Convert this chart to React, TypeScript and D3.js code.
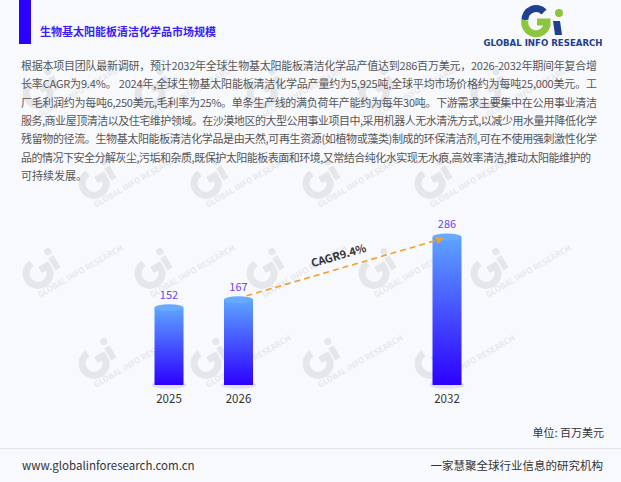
import React from "react";
import * as d3 from "d3";

const slots = ["2025", "2026", "2027", "2028", "2032"];
const categories = ["2025", "2026", "2032"];
const values = [152, 167, 286];
const cagrLabel = "CAGR9.4%";
const title = "生物基太阳能板清洁化学品市场规模";
const bodyLines = [
  "根据本项目团队最新调研，预计2032年全球生物基太阳能板清洁化学品产值达到286百万美元，2026-2032年期间年复合增",
  "长率CAGR为9.4%。 2024年,全球生物基太阳能板清洁化学品产量约为5,925吨,全球平均市场价格约为每吨25,000美元。工",
  "厂毛利润约为每吨6,250美元,毛利率为25%。单条生产线的满负荷年产能约为每年30吨。下游需求主要集中在公用事业清洁",
  "服务,商业屋顶清洁以及住宅维护领域。在沙漠地区的大型公用事业项目中,采用机器人无水清洗方式,以减少用水量并降低化学",
  "残留物的径流。生物基太阳能板清洁化学品是由天然,可再生资源(如植物或藻类)制成的环保清洁剂,可在不使用强刺激性化学",
  "品的情况下安全分解灰尘,污垢和杂质,既保护太阳能板表面和环境,又常结合纯化水实现无水痕,高效率清洁,推动太阳能维护的",
  "可持续发展。",
];
const unitLabel = "单位: 百万美元";
const footerLeft = "www.globalinforesearch.com.cn";
const footerRight = "一家慧聚全球行业信息的研究机构";

const W = 621;
const H = 482;
const FONT = "'Noto Sans CJK SC', 'Noto Sans', sans-serif";

function Watermark({ x, y }: { x: number; y: number }) {
  return (
    <g transform={`translate(${x},${y}) rotate(-30)`} opacity={0.07}>
      <path d="M -4 -10 A 12 12 0 1 0 8 6 L 8 0 L 0 0" fill="none" stroke="#000" strokeWidth={7} />
      <rect x={13} y={-6} width={6} height={14} fill="#000" />
      <circle cx={16} cy={-12} r={3.5} fill="#000" />
      <text x={-14} y={24} fontSize={8} fontWeight={700} fill="#000" fontFamily={FONT}>
        GLOBAL INFO RESEARCH
      </text>
    </g>
  );
}

export default function App() {
  const x = d3.scalePoint<string>().domain(slots).range([169, 447]);
  const y = d3.scaleLinear().domain([0, 286]).range([385, 234]);
  const barW = 29;

  const wm: { x: number; y: number }[] = [];
  const rowsY = [90, 180, 270, 360];
  rowsY.forEach((ry, i) => {
    for (let k = 0; k < 5; k++) {
      const px = 40 + k * 112 + (i % 2) * 56;
      if (px < 500) wm.push({ x: px, y: ry });
    }
  });

  const sx = (x("2026") as number) + 8;
  const sy = y(167) - 1;
  const ex = (x("2032") as number) - 6;
  const ey = y(286) + 5;
  const ang = (Math.atan2(ey - sy, ex - sx) * 180) / Math.PI;
  const mx = (sx + ex) / 2 - 4;
  const my = (sy + ey) / 2 - 8;

  return (
    <svg width={W} height={H} style={{ position: "absolute", left: 0, top: 0 }} fontFamily={FONT}>
      <defs>
        <linearGradient id="barGrad" x1="0" y1="0" x2="0" y2="1">
          <stop offset="0%" stopColor="#5ea4ff" />
          <stop offset="100%" stopColor="#2c00ff" />
        </linearGradient>
        <marker id="arrow" viewBox="0 0 10 10" refX="6" refY="5" markerWidth="5" markerHeight="5" orient="auto">
          <path d="M0,0 L10,5 L0,10 z" fill="#f0a030" />
        </marker>
      </defs>
      <rect x={0} y={0} width={W} height={H} fill="#f8f9fd" />
      {wm.map((p, i) => (
        <Watermark key={i} x={p.x} y={p.y} />
      ))}
      <rect x={19} y={0} width={12} height={44} fill="#2b00ff" />
      <text x={40} y={36} fontSize={11} fontWeight={700} fill="#3a1cff">
        {title}
      </text>

      {/* logo */}
      <g>
        <path d="M 544 12 A 11 11 0 0 0 525 20" fill="none" stroke="#1f3f8f" strokeWidth={7} />
        <path d="M 525 20 A 11 11 0 0 0 547 25 L 547 22 L 537 22" fill="none" stroke="#8cc63f" strokeWidth={7} />
        <path d="M 553 21 L 560 21 L 562 35 L 555 35 z" fill="#1f3f8f" />
        <circle cx={559} cy={13} r={4} fill="#8cc63f" />
        <text x={543} y={46} textAnchor="middle" fontSize={8.6} fontWeight={700} fill="#1f3f8f" fontFamily="'DejaVu Sans', sans-serif">
          GLOBAL INFO RESEARCH
        </text>
      </g>

      {bodyLines.map((line, i) => (
        <text
          key={i}
          x={21}
          y={70 + i * 18.3}
          fontSize={11}
          fill="#555"
          {...(i < bodyLines.length - 2 ? { textLength: 576, lengthAdjust: "spacing" } : i === bodyLines.length - 2 ? { textLength: 570, lengthAdjust: "spacing" } : {})}
        >
          {line}
        </text>
      ))}

      {categories.map((c, i) => {
        const cx = x(c) as number;
        const top = y(values[i]);
        const base = y(0);
        return (
          <g key={c}>
            <ellipse cx={cx} cy={base} rx={barW / 2 + 3} ry={4} fill="#dde4f8" />
            <rect x={cx - barW / 2} y={top + 3} width={barW} height={base - top - 3} fill="url(#barGrad)" />
            <ellipse cx={cx} cy={top + 3} rx={barW / 2} ry={3.5} fill="#68aaff" />
            <text x={cx} y={top - 6} textAnchor="middle" fontSize={11} fill="#6a48f0">
              {values[i]}
            </text>
            <text x={cx} y={base + 18} textAnchor="middle" fontSize={11.5} fill="#333">
              {c}
            </text>
          </g>
        );
      })}

      <line x1={sx} y1={sy} x2={ex} y2={ey} stroke="#f0a030" strokeWidth={1.6} strokeDasharray="6,4" markerEnd="url(#arrow)" />
      <text x={mx} y={my} transform={`rotate(${ang},${mx},${my})`} textAnchor="middle" fontSize={11} fontWeight={700} fill="#333">
        {cagrLabel}
      </text>

      <text x={604} y={437} textAnchor="end" fontSize={11} fill="#333">
        {unitLabel}
      </text>
      <line x1={0} y1={448.5} x2={W} y2={448.5} stroke="#e2e4ea" strokeWidth={1} />
      <text x={22} y={470} fontSize={11.5} fill="#333">
        {footerLeft}
      </text>
      <text x={603} y={470} textAnchor="end" fontSize={11.5} fill="#333">
        {footerRight}
      </text>
    </svg>
  );
}
